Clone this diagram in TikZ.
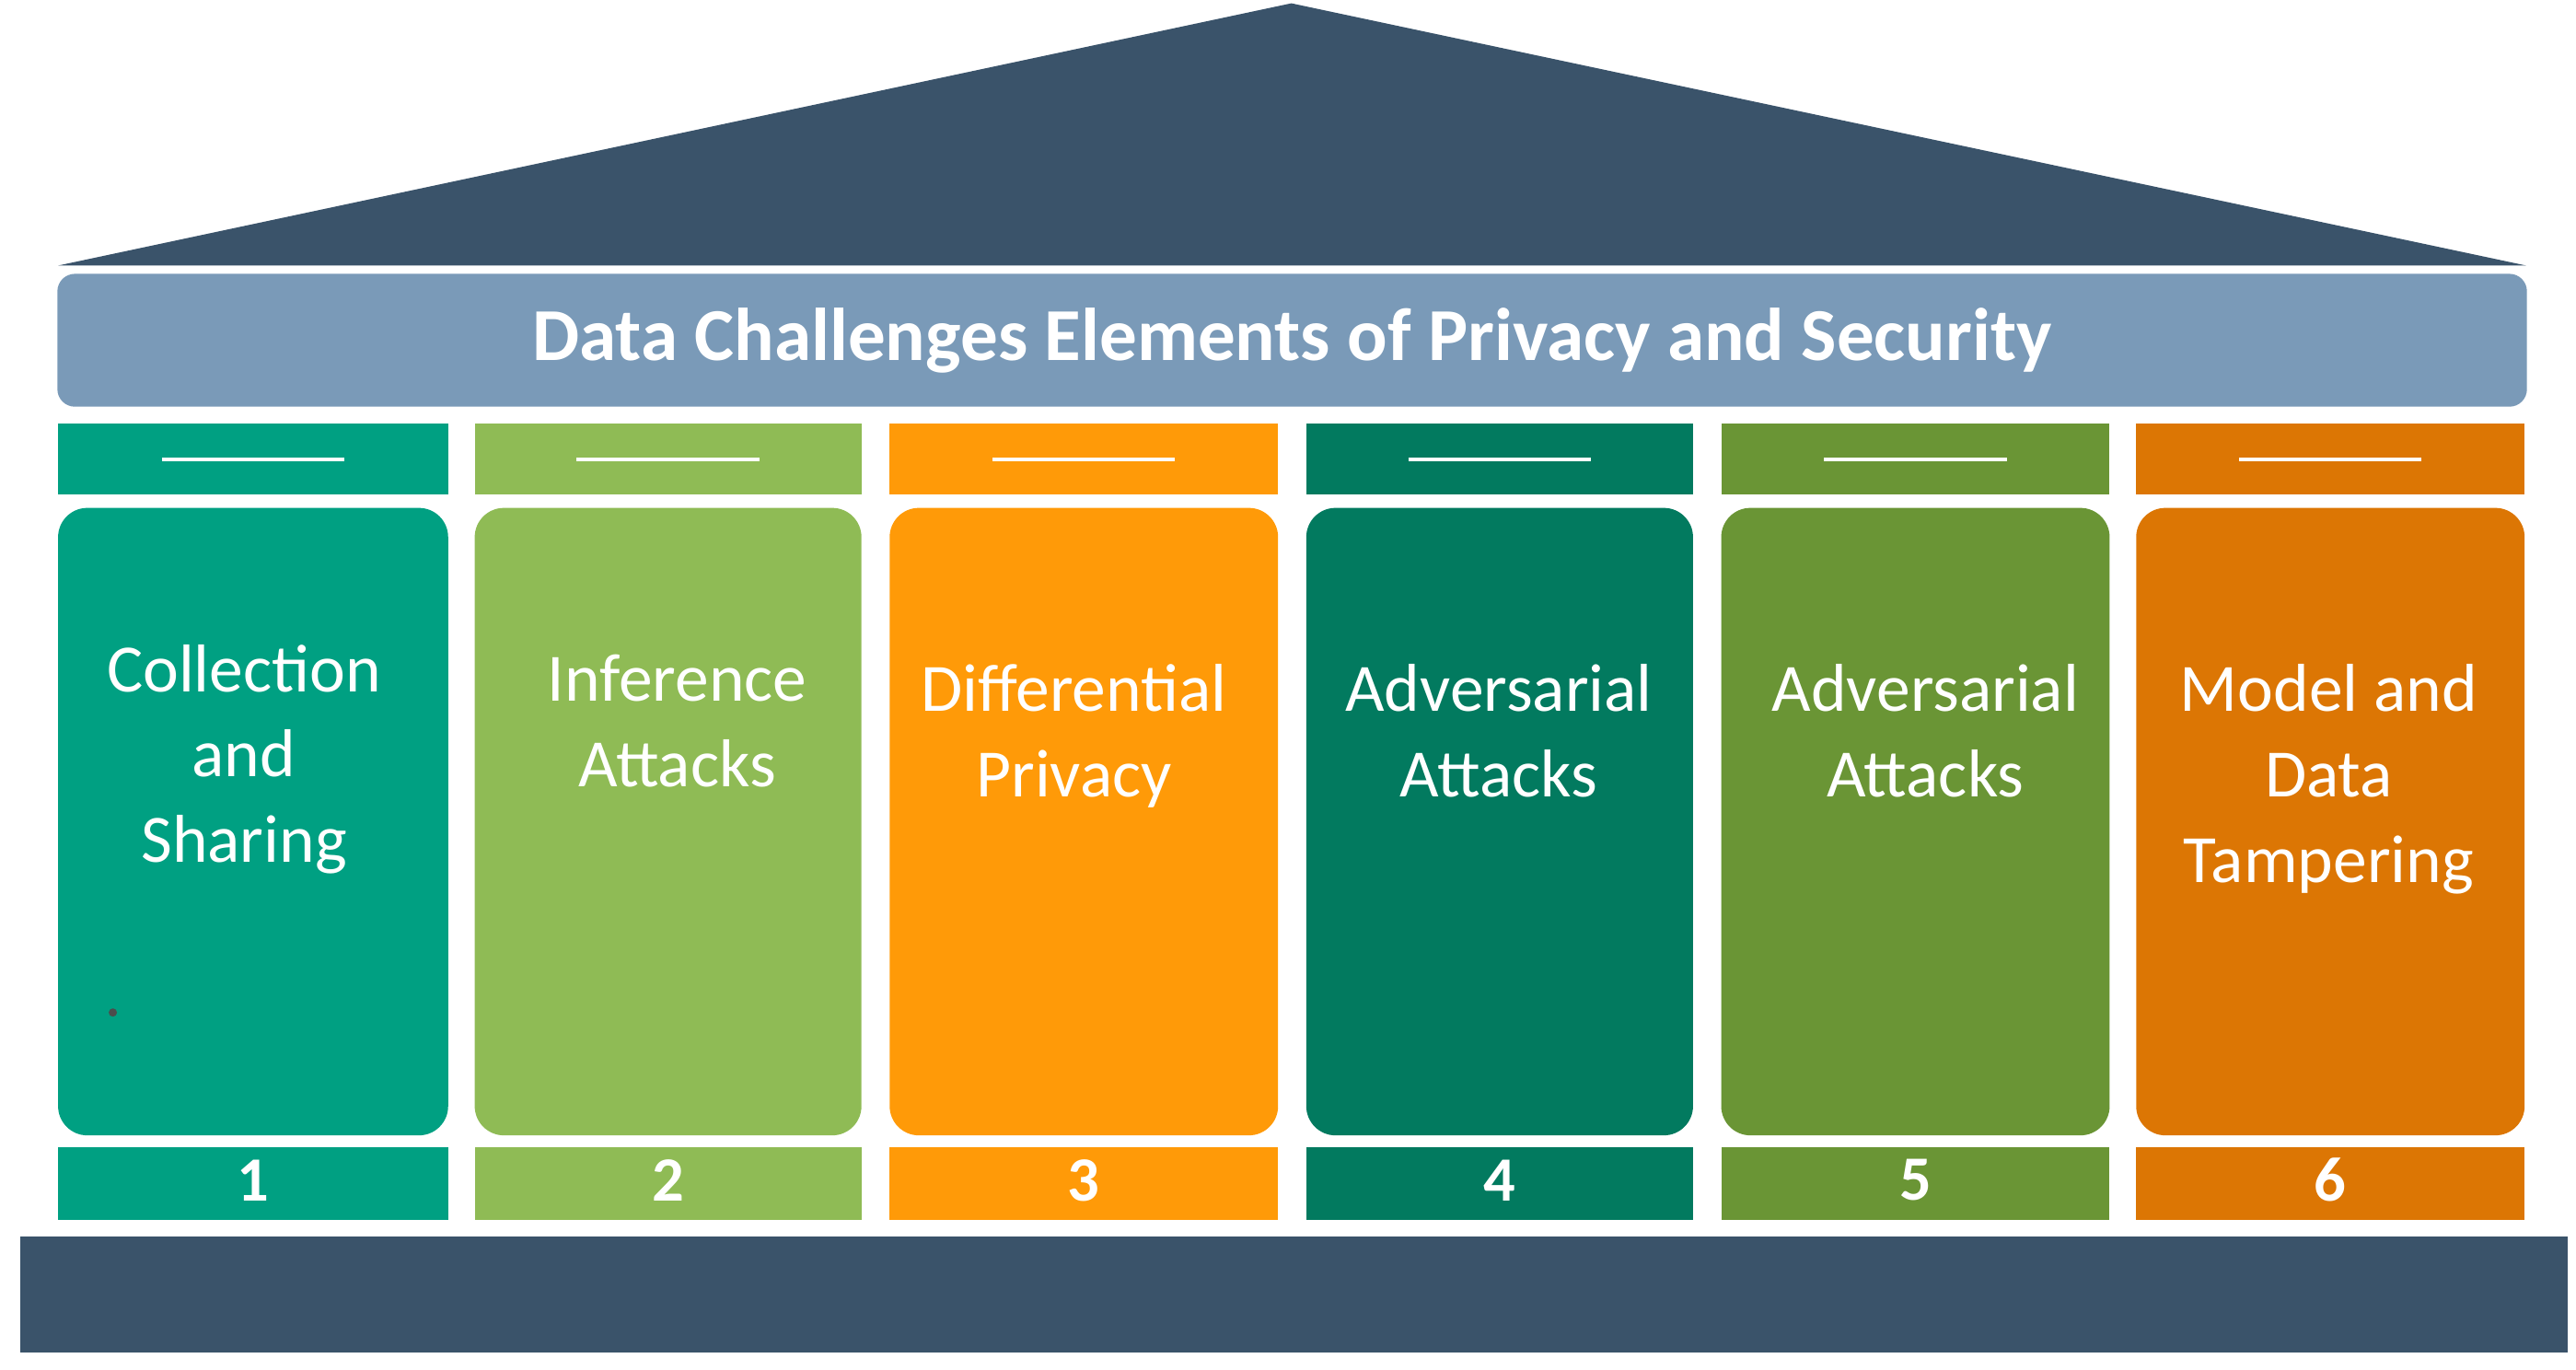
\documentclass[tikz,border=0pt]{standalone}
\usepackage{fontspec}
\setmainfont{Carlito}
\begin{document}
\begin{tikzpicture}[x=0.01cm,y=-0.01cm,
  dark/.style={fill={rgb,255:red,58;green,83;blue,106}},
  lbl/.style={text=white,font=\fontsize{11.6}{14.6}\selectfont,align=center,anchor=north},
  num/.style={text=white,font=\fontsize{10.8}{13}\selectfont\bfseries},
  body/.style={rounded corners=5pt}]
\useasboundingbox (0,0) rectangle (1552,825);
\definecolor{c1}{RGB}{0,160,130}
\definecolor{c2}{RGB}{143,187,85}
\definecolor{c3}{RGB}{255,154,8}
\definecolor{c4}{RGB}{2,122,95}
\definecolor{c5}{RGB}{106,149,53}
\definecolor{c6}{RGB}{220,118,4}
\fill[dark] (35,160) -- (778,2) -- (1522,160) -- cycle;
\node[fill={rgb,255:red,122;green,154;blue,184},rounded corners=3pt,minimum width=14.87cm,minimum height=0.8cm,inner sep=0pt] (banner) at (778.5,205)
 {\textcolor{white}{\fontsize{12.8}{14}\selectfont\bfseries Data Challenges Elements of Privacy and Security}};
\fill[dark] (12,745) rectangle (1547,815);
\foreach \i/\a/\b in {1/35/270,2/286/519,3/536/770,4/787/1020,5/1037/1271,6/1287/1521}{
  \fill[c\i] (\a,255) rectangle (\b,298);
  \draw[white,line width=0.6pt] ({(\a+\b)/2-55},277) -- ({(\a+\b)/2+55},277);
  \fill[c\i,body] (\a,306) rectangle (\b,684);
  \fill[c\i] (\a,691) rectangle (\b,735);
  \node[num] (n\i) at ({(\a+\b)/2},711) {\i};
}
\node[lbl] (t1) at (147,376) {Collection\\and\\Sharing};
\node[lbl] (t2) at (408,382) {Inference\\Attacks};
\node[lbl] (t3) at (647,388) {Differential\\Privacy};
\node[lbl] (t4) at (903,388) {Adversarial\\Attacks};
\node[lbl] (t5) at (1160,388) {Adversarial\\Attacks};
\node[lbl] (t6) at (1403,388) {Model and\\Data\\Tampering};
\fill[black!70] (68,610) circle (2.5);
\end{tikzpicture}
\end{document}
